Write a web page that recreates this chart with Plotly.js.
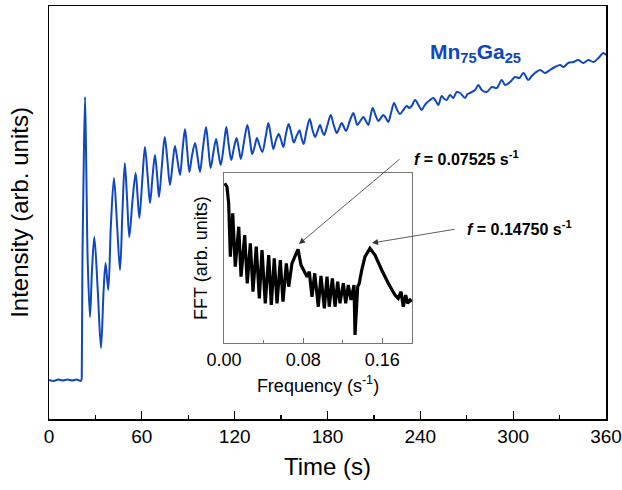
<!DOCTYPE html>
<html>
<head>
<meta charset="utf-8">
<script src="https://cdn.plot.ly/plotly-3.0.1.min.js"></script>
<style>html,body{margin:0;padding:0;background:#fff;}#chart{width:622px;height:490px;}</style>
</head>
<body>
<div id="chart"></div>
<script>
// Main time trace (Mn75Ga25), arbitrary intensity units
var time = [0,3,6,9,12,15,18,20.5,21,21.2,21.6,22.3,23.3,24.2,25,26.5,27.8,29.3,31.5,33.6,35.3,36.6,38.3,40,42,44,45.9,47.5,49,50.5,51.9,54,56,57.2,58.4,60.3,62,63.7,65.3,67,68.5,70,71.1,73,74.8,76.5,78.2,80,81.4,83,84.7,86.3,87.9,89.3,90.7,92.5,94.4,96,97.6,99.5,101.5,103,104.5,106.3,108,109.5,111,113,114.6,116,117.8,119.5,121.2,122.6,124,126,128.2,129.9,131.3,133,134.4,136,137.9,140,141.8,143.5,145,146.7,148.5,150,151.5,153,154.9,156.6,158.2,160,161.9,163.2,164.6,166.5,168.5,170.3,172,173.6,175.2,176.5,177.8,180,182.1,184,186,187.6,189.2,190.6,192,194.4,196.7,198,199.3,201.2,203.2,204.8,206.4,207.8,209.2,211,212.9,214.5,216.1,217.7,219.3,221.2,223,225,226.9,229,231.2,232.8,234.4,236.6,238.8,240.9,242.5,244,246.3,248.4,250,251.6,253.8,255.5,257,259.2,261.3,263.5,265.7,268.9,270.5,272.1,275.4,277.5,279.7,282.9,286.2,289.4,292.6,294.8,298,301.2,304,306.6,309.8,312,314.1,317.4,320.6,323.8,327.1,330.3,332.5,335.6,338.9,342.1,345.3,348.6,351.8,355.1,358.3,360];
var intensity = [39,38,39.5,38.5,39.5,38.5,39.5,38,39,49,156,239,322,239,159,102,149,182,129,71,129,156,129,194,241,194,149,209,256,219,182,219,246,224,201,239,272,244,216,244,264,241,222,254,282,259,234,257,273,259,244,269,290,269,247,264,276,262,247,271,292,271,251,267,280,266,254,274,292,276,259,271,281,271,260,277,294,279,265,273,281,274,267,282,296,282,270,279,285,279,272,284,295,286,276.5,283,288.5,281,275,289,300,289,282,288,294,288,284,294,304,294,286,291,296,292,288,298,306,300,294,298,302,298,294,303,311,304,298,301,304,301,297,307,316,309,305,309,313,311,313,319,314,309,313,316,319,321,318,314,323,320,319,324,321,327,326,321,325,326,329,334,329,327,332,331,339,334,337,342,341,346,339,343,346,349,346,349,352,354,352,356,357,359,356,359,357,361,366,364];

// Inset FFT spectrum
var freq = [0.0007,0.0030,0.0047,0.0054,0.0064,0.0088,0.0114,0.0149,0.0172,0.0209,0.0235,0.0266,0.0293,0.0326,0.0357,0.0384,0.0417,0.0452,0.0478,0.0508,0.0536,0.0569,0.0596,0.0630,0.0654,0.0687,0.0748,0.0778,0.0805,0.0839,0.0862,0.0889,0.0917,0.0953,0.0980,0.1014,0.1041,0.1064,0.1095,0.1122,0.1149,0.1172,0.1206,0.1230,0.1256,0.1283,0.1314,0.1324,0.1351,0.1367,0.1392,0.1425,0.1475,0.1526,0.1594,0.1660,0.1728,0.1761,0.1789,0.1812,0.1836,0.1856,0.1880,0.1897];
var fft = [159.7,156.3,139.7,120,86.3,129.7,76.3,116.3,66.3,108,59.7,99.7,51.3,96.3,44.7,93,39.7,88,38,84.7,39.7,83,41.3,79.7,56.3,79.7,93.7,78,73,66.3,71.3,46.3,69.7,36.3,67,34.7,66.3,36.3,64.7,36.3,61.3,39.7,59.7,39.7,58,43,58,8,56.3,59.7,73,86.3,94.7,88,73,59.7,48,44.7,51.3,36.3,48,39.7,43,41.3];

var xTickStep = 60, xMinorStep = 30;
var fTickStep = 0.08, fMinorStep = 0.04;
var peak1Label = '<b><i>f</i> = 0.07525 s<sup>-1</sup></b>';
var peak2Label = '<b><i>f</i> = 0.14750 s<sup>-1</sup></b>';
var sampleLabel = '<b>Mn<sub>75</sub>Ga<sub>25</sub></b>';

var blue = '#1047BE';
var FONT = 'Liberation Sans, Arial, sans-serif';

var traces = [
  {x: time, y: intensity, type: 'scatter', mode: 'lines', line: {color: blue, width: 2, shape: 'spline', smoothing: 0.9}, xaxis: 'x', yaxis: 'y', hoverinfo: 'skip'},
  {x: freq, y: fft, type: 'scatter', mode: 'lines', line: {color: '#000', width: 3.2}, xaxis: 'x2', yaxis: 'y2', hoverinfo: 'skip'}
];

var layout = {
  width: 622, height: 490,
  margin: {l: 49, r: 16, t: 6, b: 71},
  paper_bgcolor: '#fff', plot_bgcolor: '#fff',
  showlegend: false,
  font: {family: FONT, color: '#000'},
  xaxis: {
    domain: [0, 1], range: [0, 360], tick0: 0, dtick: xTickStep,
    ticks: 'inside', ticklen: 8, tickwidth: 1.3, tickcolor: '#000',
    minor: {dtick: xMinorStep, ticks: 'inside', ticklen: 4, tickwidth: 1.2, tickcolor: '#000'},
    showline: true, linecolor: '#000', linewidth: 1.5, mirror: true,
    showgrid: false, zeroline: false,
    tickfont: {size: 19, family: FONT, color: '#000'},
    title: {text: 'Time (s)', font: {size: 24, family: FONT, color: '#000'}, standoff: 12}
  },
  yaxis: {
    domain: [0, 1], range: [0, 413],
    showticklabels: false, ticks: '',
    showline: true, linecolor: '#000', linewidth: 1.5, mirror: true,
    showgrid: false, zeroline: false,
    title: {text: 'Intensity (arb. units)', font: {size: 24, family: FONT, color: '#000'}, standoff: 12}
  },
  xaxis2: {
    domain: [0.3142, 0.6517], anchor: 'y2', range: [0, 0.19], tick0: 0, dtick: fTickStep, tickformat: '.2f',
    ticks: 'inside', ticklen: 5, tickwidth: 1, tickcolor: '#777',
    minor: {dtick: fMinorStep, ticks: 'inside', ticklen: 3, tickcolor: '#777'},
    showline: true, linecolor: '#777', linewidth: 1, mirror: true,
    showgrid: false, zeroline: false,
    tickfont: {size: 18, family: FONT, color: '#000'},
    title: {text: 'Frequency (s<sup>-1</sup>)', font: {size: 18, family: FONT, color: '#000'}, standoff: 10}
  },
  yaxis2: {
    domain: [0.184, 0.5956], anchor: 'x2', range: [0, 170],
    showticklabels: false, ticks: '',
    showline: true, linecolor: '#777', linewidth: 1, mirror: true,
    showgrid: false, zeroline: false,
    title: {text: 'FFT (arb. units)', font: {size: 18, family: FONT, color: '#000'}, standoff: 10}
  },
  annotations: [
    {x: 0.0758, y: 99, xref: 'x2', yref: 'y2', ax: 0.1789, ay: 185, axref: 'x2', ayref: 'y2', text: '', showarrow: true, arrowhead: 2, arrowsize: 1.5, arrowwidth: 0.8, arrowcolor: '#333'},
    {x: 0.1496, y: 100, xref: 'x2', yref: 'y2', ax: 0.2345, ay: 114, axref: 'x2', ayref: 'y2', text: '', showarrow: true, arrowhead: 2, arrowsize: 1.5, arrowwidth: 0.8, arrowcolor: '#333'},
    {x: 0.6512, y: 0.632, xref: 'paper', yref: 'paper', xanchor: 'left', yanchor: 'middle', text: peak1Label, showarrow: false, font: {size: 16, family: FONT, color: '#000'}},
    {x: 0.7469, y: 0.4617, xref: 'paper', yref: 'paper', xanchor: 'left', yanchor: 'middle', text: peak2Label, showarrow: false, font: {size: 16, family: FONT, color: '#000'}},
    {x: 0.6804, y: 0.885, xref: 'paper', yref: 'paper', xanchor: 'left', yanchor: 'middle', text: sampleLabel, showarrow: false, font: {size: 21, family: FONT, color: blue}}
  ]
};

Plotly.newPlot('chart', traces, layout, {displayModeBar: false, staticPlot: true});
</script>
</body>
</html>
